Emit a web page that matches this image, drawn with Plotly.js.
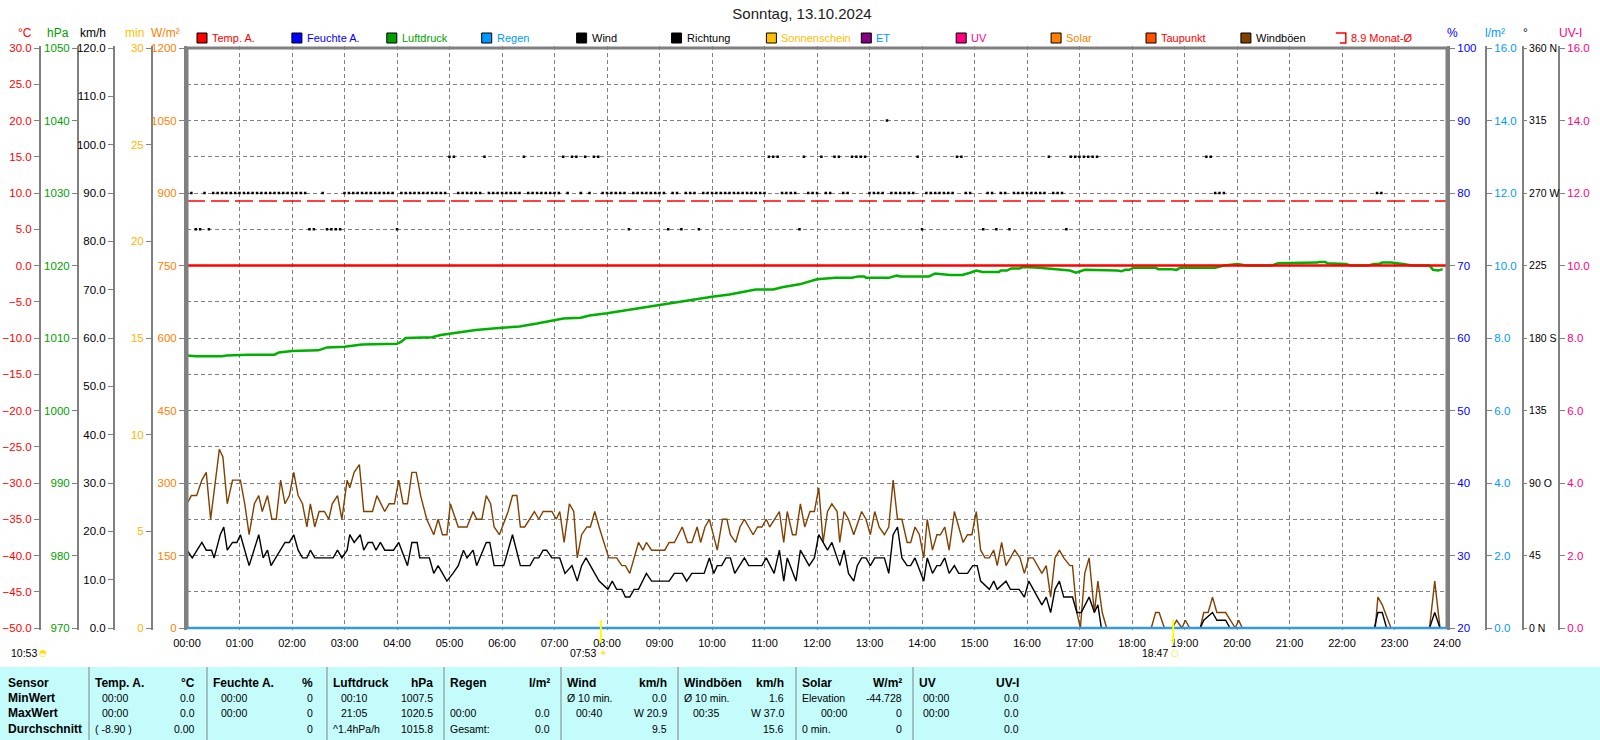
<!DOCTYPE html>
<html><head><meta charset="utf-8">
<script src="https://cdn.plot.ly/plotly-3.0.1.min.js"></script>
<style>html,body{margin:0;padding:0;background:#fff;}#chart{width:1600px;height:740px;}</style>
</head><body><div id="chart"></div>
<script>
// ---------------- DATA ----------------
const chartTitle = 'Sonntag, 13.10.2024';
const hourLabels = ['00:00','01:00','02:00','03:00','04:00','05:00','06:00','07:00','08:00','09:00','10:00','11:00','12:00','13:00','14:00','15:00','16:00','17:00','18:00','19:00','20:00','21:00','22:00','23:00','24:00'];

// Sensors that stay at zero all day (sampled every 6 h)
const flatTimes = ['00:00','06:00','12:00','18:00','24:00'];
const tempValues = [0.0, 0.0, 0.0, 0.0, 0.0];          // Temp. A. (°C)
const humidityValues = [0, 0, 0, 0, 0];                 // Feuchte A. (%)
const rainValues = [0.0, 0.0, 0.0, 0.0, 0.0];           // Regen (l/m²)
const etValues = [0.0, 0.0, 0.0, 0.0, 0.0];             // ET (l/m²)
const sunshineValues = [0, 0, 0, 0, 0];                 // Sonnenschein (min)
const solarValues = [0, 0, 0, 0, 0];                    // Solar (W/m²)
const uvValues = [0.0, 0.0, 0.0, 0.0, 0.0];             // UV (UV-I)
// monthly average temperature
const monthAvgTimes = ['00:00','24:00'];
const monthAvgValues = [8.9, 8.9];

// Pressure (hPa), time in minutes
const pressT = [0,10,40,45,70,100,105,120,150,160,180,200,240,245,250,280,290,300,320,330,360,380,400,420,430,450,460,480,500,520,540,560,580,600,620,640,650,670,680,700,710,720,741,760,767,774,776,802,811,816,848,855,872,886,895,902,909,928,930,937,942,951,956,970,974,1009,1016,1026,1040,1049,1063,1068,1072,1077,1082,1107,1110,1124,1131,1135,1175,1185,1196,1201,1210,1240,1247,1254,1259,1292,1294,1301,1303,1320,1324,1330,1350,1357,1362,1366,1376,1390,1400,1420,1424,1430,1435];
const pressV = [1007.6,1007.5,1007.5,1007.6,1007.7,1007.7,1008.0,1008.2,1008.3,1008.7,1008.8,1009.1,1009.2,1009.5,1010.0,1010.1,1010.4,1010.6,1010.9,1011.1,1011.4,1011.6,1012.0,1012.4,1012.7,1012.8,1013.1,1013.4,1013.8,1014.2,1014.6,1015.0,1015.3,1015.7,1016.0,1016.4,1016.7,1016.7,1017.0,1017.4,1017.7,1018.1,1018.3,1018.3,1018.5,1018.5,1018.3,1018.3,1018.6,1018.5,1018.5,1018.9,1018.7,1018.7,1019.0,1019.3,1019.1,1019.1,1019.3,1019.3,1019.6,1019.6,1019.8,1019.8,1019.7,1019.3,1019.0,1019.4,1019.4,1019.3,1019.3,1019.2,1019.4,1019.4,1019.7,1019.7,1019.5,1019.5,1019.4,1019.7,1019.7,1020.0,1020.2,1020.2,1020.0,1020.0,1020.3,1020.3,1020.4,1020.4,1020.5,1020.5,1020.3,1020.3,1020.2,1020.0,1020.0,1020.2,1020.2,1020.4,1020.4,1020.2,1020.0,1020.0,1019.4,1019.3,1019.5];

// Wind (km/h), time in minutes
const windT = [0,6,17,22,28,31,38,42,46,52,57,61,71,82,87,92,96,112,117,122,127,132,137,141,146,167,172,177,183,186,191,198,202,207,212,216,221,226,236,242,252,257,263,266,277,282,287,297,304,310,316,320,327,331,342,346,351,362,372,381,392,397,402,407,411,417,426,432,440,446,451,456,466,471,481,486,491,497,501,
506,511,516,525,531,551,557,566,571,577,591,597,602,606,611,616,621,626,637,642,657,662,671,677,682,686,696,701,706,711,717,722,727,732,737,746,751,756,762,766,771,776,781,786,797,802,807,812,817,823,827,832,842,846,852,857,861,866,871,877,882,892,898,903,907,917,922,926,936,941,951,957,962,967,977,982,987,992,997,1002,1009,
1012,1017,1022,1031,1037,1041,1045,1158,1162,1172,1177,1187,1192,1357,1361,1366,1371,1420,1426,1432,1435];
const windV = [16.1,14.5,17.7,16.1,16.1,14.5,19.3,20.9,16.1,17.7,17.7,19.3,12.9,19.3,14.5,16.1,12.9,17.7,17.7,19.3,16.1,14.5,14.5,16.1,14.5,14.5,16.1,14.5,16.1,19.3,17.7,19.3,16.1,17.7,17.7,16.1,17.7,16.1,16.1,17.7,12.9,17.7,17.7,14.5,14.5,11.3,12.9,9.7,11.3,12.9,16.1,14.5,16.1,12.9,17.7,17.7,12.9,12.9,19.3,12.9,12.9,14.5,14.5,16.1,16.1,14.5,14.5,11.3,12.9,9.7,12.9,14.5,11.3,9.7,8.0,9.7,8.0,8.0,6.4,
6.4,8.0,8.0,11.3,9.7,9.7,11.3,11.3,9.7,11.3,11.3,14.5,11.3,12.9,12.9,14.5,14.5,11.3,14.5,12.9,12.9,14.5,11.3,16.1,9.7,14.5,9.7,16.1,14.5,12.9,14.5,19.3,17.7,16.1,17.7,12.9,16.1,11.3,9.7,12.9,14.5,14.5,12.9,14.5,14.5,11.3,19.3,20.9,14.5,12.9,12.9,14.5,9.7,14.5,11.3,12.9,12.9,14.5,11.3,12.9,11.3,11.3,12.9,12.9,9.7,8.0,9.7,8.0,9.7,8.0,8.0,6.4,9.7,8.0,4.8,6.4,3.2,8.0,9.7,6.4,6.4,
6.4,3.2,3.2,6.4,3.2,4.8,0,0,1.6,3.2,1.6,1.6,0,0,3.2,3.2,0,0,3.2,0,0];

// Gusts (km/h), time in minutes
const gustT = [0,5,11,17,22,27,37,41,46,52,61,66,71,77,82,86,92,97,102,107,112,117,122,127,132,137,141,146,151,157,162,166,172,177,183,186,191,197,202,212,217,226,231,237,242,247,252,257,262,267,274,282,287,292,297,301,310,320,327,331,337,342,347,351,357,367,372,377,381,386,397,402,407,417,422,426,431,437,442,446,451,457,461,466,471,482,491,497,501,
506,516,521,525,531,546,551,557,566,572,577,583,587,592,597,606,612,617,621,627,632,637,647,652,657,662,666,677,682,686,692,696,701,706,712,717,722,727,732,737,743,746,751,756,762,771,776,781,786,791,797,802,807,812,817,823,827,832,837,842,846,852,857,861,866,871,877,882,887,892,897,902,907,912,917,922,926,931,936,946,952,957,962,967,977,982,987,992,997,1002,1009,
1012,1017,1021,1026,1031,1037,1041,1046,1051,1102,1107,1111,1117,1126,1131,1137,1141,1146,1158,1162,1167,1172,1177,1187,1198,1202,1206,1358,1361,1366,1376,1420,1426,1432,1435];
const gustV = [25.7,27.4,27.4,30.6,32.2,22.5,37.0,35.4,25.7,30.6,30.6,25.7,19.3,25.7,27.4,24.1,27.4,22.5,22.5,30.6,25.7,27.4,32.2,27.4,25.7,20.9,25.7,20.9,24.1,24.1,22.5,25.7,27.4,22.5,30.6,29.0,32.2,33.8,24.1,24.1,27.4,24.1,25.7,25.7,30.6,25.7,25.7,32.2,32.2,27.4,22.5,19.3,22.5,19.3,19.3,25.7,20.9,20.9,24.1,22.5,22.5,27.4,25.7,20.9,19.3,24.1,27.4,27.4,20.9,20.9,24.1,22.5,24.1,24.1,22.5,24.1,17.7,25.7,24.1,14.5,19.3,20.9,20.9,24.1,20.9,14.5,14.5,12.9,12.9,
11.3,17.7,16.1,17.7,16.1,16.1,17.7,17.7,20.9,17.7,17.7,20.9,17.7,20.9,22.5,16.1,22.5,22.5,19.3,17.7,20.9,22.5,19.3,20.9,20.9,22.5,20.9,24.1,17.7,24.1,19.3,19.3,25.7,20.9,24.1,24.1,29.0,17.7,24.1,25.7,24.1,17.7,24.1,22.5,19.3,24.1,22.5,19.3,24.1,20.9,19.3,20.9,30.6,22.5,22.5,17.7,17.7,20.9,19.3,14.5,22.5,16.1,19.3,19.3,20.9,16.1,24.1,20.9,17.7,19.3,19.3,24.1,16.1,14.5,14.5,16.1,12.9,17.7,12.9,16.1,14.5,11.3,14.5,14.5,11.3,12.9,6.4,14.5,16.1,14.5,12.9,
12.9,3.2,0,11.3,14.5,3.2,9.7,3.2,0,0,3.2,3.2,0,0,1.6,0,1.6,0,0,3.2,3.2,6.4,3.2,3.2,0,1.6,0,0,6.4,4.8,0,0,9.7,0,0];

// Wind direction (°), time in minutes
const dirT = [0,5,10,15,20,25,30,35,40,45,50,55,60,65,70,75,80,85,90,95,100,105,110,115,120,125,130,135,140,145,155,160,165,170,175,180,185,190,195,200,205,210,215,220,225,230,235,240,245,250,255,260,265,270,275,280,285,290,295,300,305,310,315,320,325,330,335,340,345,350,355,360,365,370,375,380,385,390,395,400,405,410,415,420,425,430,435,440,445,450,455,460,465,470,475,480,485,490,495,500,505,510,515,520,525,530,535,540,545,550,555,560,565,570,575,580,585,590,595,600,605,610,615,620,625,630,635,640,645,650,655,660,665,670,675,680,685,690,695,700,705,710,715,720,725,730,735,740,745,750,755,760,765,770,775,780,785,790,795,800,805,810,815,820,825,830,835,840,845,850,855,860,865,870,875,880,885,890,895,910,915,920,925,930,935,940,945,950,955,960,965,970,975,980,985,990,995,1000,1005,1010,1015,1020,1025,1030,1035,1040,1165,1170,1175,1180,1185,1360,1365];
const dirV = [270,270,247.5,247.5,270,247.5,
270,270,270,270,270,270,270,270,270,270,270,270,270,270,270,270,270,270,270,270,270,270,
247.5,247.5,270,247.5,247.5,247.5,247.5,
270,270,270,270,270,270,270,270,270,270,270,270,
247.5,
270,270,270,270,270,270,270,270,270,270,270,
292.5,292.5,
270,270,270,270,270,270,
292.5,
270,270,270,270,270,270,270,270,
292.5,
270,270,270,270,270,270,270,270,
292.5,270,292.5,292.5,270,292.5,270,292.5,292.5,
270,270,270,270,270,270,
247.5,
270,270,270,270,270,270,270,270,
247.5,270,270,247.5,270,270,270,247.5,
270,270,270,270,270,270,270,270,270,270,270,270,270,270,270,
292.5,292.5,292.5,
270,270,270,270,
247.5,292.5,270,270,270,292.5,270,270,292.5,292.5,270,270,
292.5,292.5,292.5,292.5,
270,270,270,270,
315,
270,270,270,270,270,270,
292.5,247.5,
270,270,270,270,270,270,270,
292.5,292.5,270,270,247.5,270,270,247.5,270,270,247.5,
270,270,270,270,270,270,270,270,
292.5,270,270,270,247.5,
292.5,292.5,292.5,292.5,292.5,292.5,292.5,
292.5,292.5,270,270,270,270,270];

// Sun times
const sunrise = '07:53', sunset = '18:47', dayLength = '10:53';

// Legend
const legendNames = ['Temp. A.','Feuchte A.','Luftdruck','Regen','Wind','Richtung','Sonnenschein','ET','UV','Solar','Taupunkt','Windböen','8.9 Monat-Ø'];
const legendBoxColors = ['#FF0000','#0000FF','#00A000','#0099FF','#000000','#000000','#FFC000','#800080','#FF0080','#FF8000','#FF5000','#804000','none'];
const legendTextColors = ['#FF0000','#0000FF','#00A000','#0099FF','#000000','#000000','#FFC000','#0099FF','#FF0080','#FF8000','#FF0000','#000000','#FF0000'];

// Table
const tableRowLabels = ['Sensor','MinWert','MaxWert','Durchschnitt'];
const tableHeaders = ['Temp. A.','Feuchte A.','Luftdruck','Regen','Wind','Windböen','Solar','UV'];
const tableUnits = ['°C','%','hPa','l/m²','km/h','km/h','W/m²','UV-I'];
const minLeft = ['00:00','00:00','00:10','','Ø 10 min.','Ø 10 min.','Elevation','00:00'];
const minRight = ['0.0','0','1007.5','','0.0','1.6','-44.728','0.0'];
const maxLeft = ['00:00','00:00','21:05','00:00','00:40','00:35','00:00','00:00'];
const maxRight = ['0.0','0','1020.5','0.0','W 20.9','W 37.0','0','0.0'];
const avgLeft = ['( -8.90 )','','^1.4hPa/h','Gesamt:','','','0 min.',''];
const avgRight = ['0.00','0','1015.8','0.0','9.5','15.6','0','0.0'];

// ---------------- LAYOUT HELPERS ----------------
const W = 1600, H = 740;
const PL = 187, PR = 1447, PT = 48, PB = 628;
const PADPX = 2;
const px = x => x / W;
const py = y => 1 - y / H;
const mins = s => { const p = s.split(':').map(Number); return p[0] * 60 + p[1]; };
const padR = (lo, hi) => { const s = (hi - lo) * PADPX / (PB - PT); return [lo - s, hi + s]; };
const FR = '"Liberation Sans", Arial, sans-serif';
const GRID = '#808080';
const YDOM = [py(PB + PADPX), py(PT - PADPX)];
const TICKSIZE = 11.5;

function yax(lo, hi, step, color, opts) {
  const vals = [];
  for (let v = lo; v <= hi + 1e-9; v += step) vals.push(+v.toFixed(3));
  return Object.assign({
    overlaying: 'y', domain: YDOM, range: padR(lo, hi), tickvals: vals,
    showgrid: false, zeroline: false, showline: true, linecolor: GRID, linewidth: 2,
    ticks: 'outside', ticklen: 5, tickwidth: 1, tickcolor: GRID,
    tickfont: { family: FR, size: TICKSIZE, color: color }, anchor: 'free', fixedrange: true
  }, opts);
}

const hourVals = hourLabels.map(mins);
const flatX = flatTimes.map(mins);

// axis ids are ordered so that the drawing order matches the reference
// y2 hPa, y3 °C, y4 km/h, y5 min, y6 W/m², y7 %, y8 UV-I, y9 °, y10 l/m²
const layout = {
  width: W, height: H, margin: { l: 0, r: 0, t: 0, b: 0 },
  paper_bgcolor: '#FFFFFF', plot_bgcolor: '#FFFFFF', showlegend: false,
  title: { text: chartTitle, x: px(802), xref: 'paper', xanchor: 'center', y: py(14), yref: 'paper', yanchor: 'middle',
           font: { family: FR, size: 15, color: '#202020' } },
  xaxis: {
    domain: [px(PL), px(PR)], range: [0, 1440], tickvals: hourVals, ticktext: hourLabels, anchor: 'y',
    showgrid: true, gridcolor: GRID, gridwidth: 1, griddash: '4px,3px', zeroline: false, showline: false,
    ticks: 'outside', ticklen: 3, tickcolor: 'rgba(0,0,0,0)', tickfont: { family: FR, size: 11, color: '#000' }, fixedrange: true
  },
  yaxis: {
    domain: YDOM, range: padR(0, 16), dtick: 1, tick0: 0, anchor: 'x',
    showgrid: true, gridcolor: GRID, gridwidth: 1, griddash: '4px,3px', zeroline: false,
    showticklabels: false, ticks: '', showline: false, fixedrange: true
  },
  yaxis2: yax(970, 1050, 10, '#00A000', { position: px(78), side: 'left' }),
  yaxis3: yax(-50, 30, 5, '#FF0000', { position: px(40), side: 'left', tickformat: '.1f' }),
  yaxis4: yax(0, 120, 10, '#000000', { position: px(114), side: 'left', tickformat: '.1f' }),
  yaxis5: yax(0, 30, 5, '#FFB400', { position: px(152), side: 'left' }),
  yaxis6: yax(0, 1200, 150, '#FF8000', { anchor: 'x', side: 'left', linewidth: 3 }),
  yaxis7: yax(20, 100, 10, '#0000FF', { anchor: 'x', side: 'right', linewidth: 3 }),
  yaxis8: yax(0, 16, 2, '#FF0080', { position: px(1559), side: 'right', tickformat: '.1f' }),
  yaxis9: yax(0, 360, 45, '#000000', { position: px(1523), side: 'right', ticklen: 3,
           ticktext: ['0 N','45','90 O','135','180 S','225','270 W','315','360 N'],
           tickfont: { family: FR, size: 10.5, color: '#000000' } }),
  yaxis10: yax(0, 16, 2, '#0099FF', { position: px(1486), side: 'right', tickformat: '.1f' }),
  shapes: [], annotations: []
};

// frame (top / left / right)
layout.shapes.push({ type: 'path', xref: 'paper', yref: 'paper', layer: 'above',
  path: `M ${px(PL)} ${py(PB)} L ${px(PL)} ${py(PT)} L ${px(PR)} ${py(PT)} L ${px(PR)} ${py(PB)}`,
  line: { color: GRID, width: 3 } });

// axis unit labels
const unitLabels = [['°C', 25, '#FF0000'], ['hPa', 58, '#00A000'], ['km/h', 93, '#000000'], ['min', 134, '#FFC000'], ['W/m²', 165, '#FF8000'],
                    ['%', 1452, '#0000FF'], ['l/m²', 1495, '#0099FF'], ['°', 1525, '#000000'], ['UV-I', 1570, '#FF0080']];
unitLabels.forEach(u => layout.annotations.push({ text: u[0], x: px(u[1]), y: py(33), xref: 'paper', yref: 'paper',
  xanchor: 'center', yanchor: 'middle', showarrow: false, font: { family: FR, size: 12, color: u[2] } }));

// legend
legendNames.forEach((name, k) => {
  const x0 = 197 + 94.9 * k;
  if (legendBoxColors[k] === 'none') {
    layout.shapes.push({ type: 'path', xref: 'paper', yref: 'paper',
      path: `M ${px(x0)} ${py(33)} L ${px(x0 + 10)} ${py(33)} L ${px(x0 + 10)} ${py(43)} L ${px(x0 + 4)} ${py(43)}`,
      line: { color: '#FF0000', width: 1.5 } });
  } else {
    layout.shapes.push({ type: 'rect', xref: 'paper', yref: 'paper', x0: px(x0), x1: px(x0 + 10), y0: py(43), y1: py(33),
      fillcolor: legendBoxColors[k], line: { color: '#000', width: 1 } });
  }
  layout.annotations.push({ text: name, x: px(x0 + 13), y: py(38.5), xref: 'paper', yref: 'paper', xanchor: 'left', yanchor: 'middle',
    showarrow: false, font: { family: FR, size: 11, color: legendTextColors[k] } });
});

// sunrise / sunset markers
[sunrise, sunset].forEach((s, i) => {
  layout.shapes.push({ type: 'line', xref: 'x', yref: 'paper', x0: mins(s), x1: mins(s), y0: py(620), y1: py(643),
    line: { color: '#FFFF00', width: 2 } });
  layout.annotations.push({ text: s, x: mins(s), y: py(653), xref: 'x', yref: 'paper', xanchor: 'right', yanchor: 'middle',
    xshift: -3, showarrow: false, font: { family: FR, size: 10.5, color: '#000' } });
  layout.annotations.push({ text: i === 0 ? '☀' : '○', x: mins(s), y: py(653), xref: 'x', yref: 'paper', xanchor: 'center', yanchor: 'middle',
    xshift: 2, showarrow: false, font: { family: 'DejaVu Sans', size: 9, color: '#FFE000' } });
});
layout.annotations.push({ text: dayLength, x: px(9), y: py(653), xref: 'paper', yref: 'paper', xanchor: 'left', yanchor: 'middle',
  showarrow: false, font: { family: FR, size: 10.5, color: '#000' } });
layout.annotations.push({ text: '◓', x: px(43), y: py(653), xref: 'paper', yref: 'paper', xanchor: 'center', yanchor: 'middle',
  showarrow: false, font: { family: 'DejaVu Sans', size: 9, color: '#FFE000' } });

// table
const colStart = [89, 207, 327, 444, 561, 678, 796, 913];
const timeOff = [11, 12, 12, 4, 13, 13, 23, 8];
const rowY = [683, 698, 713, 729];
layout.shapes.push({ type: 'rect', xref: 'paper', yref: 'paper', x0: 0, x1: 1, y0: 0, y1: py(667), fillcolor: '#C4FCFC', line: { width: 0 }, layer: 'below' });
colStart.forEach(c => layout.shapes.push({ type: 'line', xref: 'paper', yref: 'paper', x0: px(c), x1: px(c), y0: 0, y1: py(667),
  line: { color: GRID, width: 1 } }));
function tAnn(text, x, y, anchor, bold) {
  if (!text) return;
  layout.annotations.push({ text: bold ? '<b>' + text + '</b>' : text, x: px(x), y: py(y), xref: 'paper', yref: 'paper',
    xanchor: anchor, yanchor: 'middle', showarrow: false,
    font: { family: FR, size: bold ? 12 : 10.5, color: '#000' } });
}
tableRowLabels.forEach((r, i) => tAnn(r, 6, rowY[i], 'left', true));
const isTime = s => /^\d\d:\d\d$/.test(s);
colStart.forEach((c, j) => {
  tAnn(tableHeaders[j], c + 4, rowY[0], 'left', true);
  tAnn(tableUnits[j], c + 108, rowY[0], 'right', true);
  [[minLeft, minRight], [maxLeft, maxRight], [avgLeft, avgRight]].forEach((pair, i) => {
    const l = pair[0][j];
    tAnn(l, c + (isTime(l) ? timeOff[j] : 4), rowY[i + 1], 'left', false);
    tAnn(pair[1][j], c + 108, rowY[i + 1], 'right', false);
  });
});

// ---------------- TRACES ----------------
const line = (x, y, ax, color, width, dash) => ({ x, y, yaxis: ax, xaxis: 'x', mode: 'lines',
  line: dash ? { color, width, dash } : { color, width }, hoverinfo: 'skip' });
const traces = [
  line(flatX, etValues, 'y', '#800080', 2),
  line(pressT, pressV, 'y2', '#00B000', 2.5),
  line(monthAvgTimes.map(mins), monthAvgValues, 'y3', '#FF0000', 1.3, '18px,6px'),
  line(flatX, tempValues, 'y3', '#FF0000', 2.5),
  line(gustT, gustV, 'y4', '#804000', 1.4),
  line(windT, windV, 'y4', '#000000', 1.4),
  line(flatX, sunshineValues, 'y5', '#FFC000', 2),
  line(flatX, solarValues, 'y6', '#FF8000', 2),
  line(flatX, humidityValues, 'y7', '#0000FF', 2),
  line(flatX, uvValues, 'y8', '#FF0080', 2),
  { x: dirT, y: dirV, yaxis: 'y9', xaxis: 'x', mode: 'markers', marker: { symbol: 'square', size: 2.5, color: '#000', line: { width: 0 } }, hoverinfo: 'skip' },
  line(flatX, rainValues, 'y10', '#3399E6', 2.5)
];

Plotly.newPlot('chart', traces, layout, { displayModeBar: false, staticPlot: true });
</script></body></html>
